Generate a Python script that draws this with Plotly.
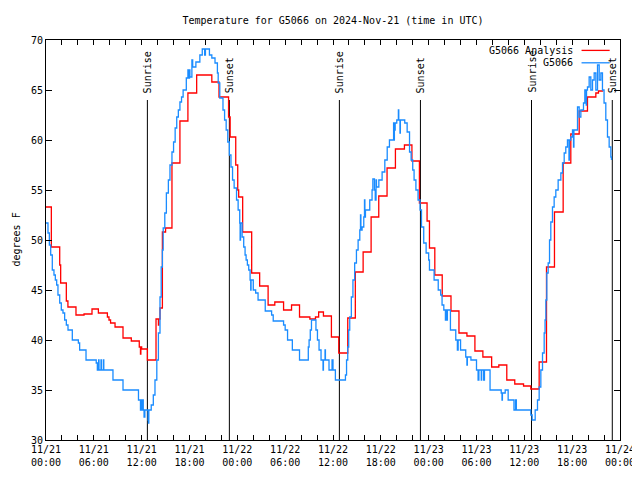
import pandas as pd
import plotly.graph_objects as go

start = pd.Timestamp("2024-11-21 00:00")

# Analysis series (hours since 11/21 00:00 UTC, degrees F)
analysis_hours = [0.0, 0.67, 1.72, 1.84, 2.55, 2.75, 3.76, 4.77, 5.77, 6.57, 7.7, 7.9, 8.1, 8.66,
                  9.66, 10.7, 11.7, 11.85, 11.9, 12.0, 12.72, 13.8, 14.1, 14.15, 14.3, 14.6, 15.0,
                  15.8, 16.8, 17.8, 18.9, 20.8, 21.7, 22.9, 23.1, 23.8, 24.05, 24.17, 24.67, 25.8,
                  26.8, 27.86, 28.7, 29.8, 30.8, 31.8, 33.1, 33.8, 34.2, 34.8, 35.8, 36.72, 37.85,
                  38.8, 39.78, 40.78, 41.74, 42.78, 43.83, 44.96, 45.9, 46.84, 47.8, 48.1, 48.77,
                  49.7, 50.8, 51.8, 52.8, 53.8, 54.8, 55.9, 56.8, 57.8, 58.8, 59.9, 60.81, 61.86,
                  62.78, 63.78, 64.87, 65.83, 66.88, 67.92, 68.97, 69.3, 69.9]
analysis_temps = [53.3, 49.3, 47.5, 45.7, 43.9, 43.3, 42.5, 42.6, 43.1, 42.7, 42.3, 42.0, 41.7, 41.3,
                  40.2, 39.9, 39.3, 38.6, 39.3, 39.1, 38.0, 42.1, 41.5, 42.1, 43.2, 50.8, 51.2,
                  57.7, 61.9, 64.7, 66.5, 65.8, 64.3, 62.3, 60.3, 57.5, 55.0, 54.3, 50.8, 46.7,
                  45.4, 43.5, 43.8, 43.0, 43.5, 42.3, 42.1, 42.3, 42.8, 42.4, 40.3, 38.7, 42.2,
                  46.8, 48.8, 52.3, 54.4, 57.2, 59.1, 59.5, 57.9, 53.7, 51.9, 49.2, 46.5,
                  44.4, 42.9, 40.7, 40.4, 38.9, 38.3, 37.3, 37.5, 36.0, 35.6, 35.4, 35.1, 37.8,
                  47.3, 52.8, 57.7, 60.6, 62.9, 64.3, 64.7, 64.9, 64.9]

# Observed series
obs_hours = [0.0, 0.25, 0.42, 0.59, 0.79, 1.0, 1.17, 1.34, 1.5, 1.72, 1.92, 2.13, 2.34, 2.55, 2.76,
             3.3, 4.06, 4.22, 5.02, 6.3, 6.44, 6.6, 6.65, 6.9, 6.95, 7.2, 7.25, 8.4, 9.66, 11.6,
             11.85, 11.9, 12.0, 12.05, 12.2, 12.3, 12.4, 12.8, 12.85, 12.9, 13.2, 13.46, 13.67,
             13.9, 14.1, 14.3, 14.45, 14.6, 14.7, 14.9, 15.1, 15.35, 15.55, 15.8, 16.0, 16.2,
             16.4, 16.6, 16.8, 17.0, 17.2, 17.6, 17.8, 17.85, 18.0, 18.05, 18.3, 18.4, 18.8,
             19.3, 19.6, 19.9, 20.0, 20.5, 20.8, 21.2, 21.5, 21.6, 21.8, 22.2, 22.4, 22.6, 22.8,
             23.0, 23.2, 23.4, 23.6, 23.9, 24.1, 24.3, 24.35, 24.4, 24.6, 24.8, 24.97, 25.1,
             25.26, 25.43, 25.6, 25.68, 25.72, 26.0, 26.3, 26.6, 27.5, 28.3, 28.5, 29.8, 30.0,
             30.3, 30.9, 31.8, 32.9, 33.0, 33.15, 33.3, 33.86, 34.05, 34.25, 34.5, 34.75, 34.8,
             35.0, 35.05, 35.5, 35.88, 36.0, 36.3, 37.56, 37.7, 37.85, 37.97, 38.1, 38.3, 38.5,
             38.72, 38.94, 39.15, 39.36, 39.45, 39.5, 39.65, 39.86, 39.95, 40.0, 40.07, 40.61,
             40.9, 41.0, 41.2, 41.3, 41.4, 41.45, 41.75, 42.08, 42.16, 42.5, 42.8, 43.08, 43.6,
             43.65, 43.7, 43.8, 44.0, 44.2, 44.25, 44.4, 44.45, 45.0, 45.3, 45.6, 45.8, 46.0,
             46.17, 46.4, 46.67, 46.92, 47.1, 47.38, 47.68, 48.0, 48.1, 48.68, 49.2, 49.5,
             49.68, 49.9, 50.1, 50.15, 50.3, 50.35, 50.73, 51.4, 51.6, 51.7, 52.0, 52.65, 52.8,
             52.85, 53.3, 54.0, 54.2, 54.3, 54.6, 54.65, 54.9, 55.0, 55.7, 57.1, 57.2, 57.25,
             57.6, 57.97, 58.7, 58.9, 59.0, 60.81, 60.98, 61.36, 61.65, 61.86, 62.07, 62.28,
             62.49, 62.6, 62.7, 62.82, 62.99, 63.16, 63.32, 63.53, 63.74, 63.95, 64.24, 64.58,
             64.79, 65.0, 65.2, 65.41, 65.6, 65.65, 65.83, 66.04, 66.17, 66.22, 66.67, 66.88,
             67.09, 67.42, 67.59, 67.76, 67.8, 67.92, 68.13, 68.34, 68.55, 68.76, 68.97, 69.18,
             69.39, 69.6, 69.8, 70.0, 70.22, 70.43, 70.64, 70.85, 70.93]
obs_temps = [51.7, 50.7, 49.5, 48.5, 47.0, 46.5, 46.0, 45.5, 44.5, 43.7, 43.0, 42.7, 42.0, 41.5, 41.0,
             40.0, 39.7, 39.0, 38.0, 37.7, 37.0, 38.0, 37.0, 38.0, 37.0, 38.0, 37.0, 36.0, 35.0, 34.0,
             33.0, 34.0, 33.0, 34.0, 33.0, 32.3, 33.0, 32.0, 31.7, 33.0, 33.5, 34.5, 36.0,
             38.0, 40.7, 44.3, 47.3, 49.0, 51.2, 52.7, 54.7, 56.0, 57.5, 58.8, 59.8, 61.2,
             62.3, 63.0, 63.8, 64.3, 65.0, 66.2, 67.0, 66.2, 67.0, 66.3, 68.0, 67.3, 67.8,
             68.5, 69.1, 68.5, 69.1, 68.5, 68.2, 67.7, 66.7, 65.7, 64.2, 63.0, 62.0, 61.0, 59.8,
             58.5, 57.3, 56.0, 55.2, 54.0, 53.0, 51.7, 50.0, 51.7, 50.3, 49.3, 48.5, 48.0,
             47.5, 47.0, 46.0, 45.0, 46.0, 45.0, 44.7, 44.0, 42.9, 42.5, 41.9, 41.5, 41.0,
             40.0, 39.0, 38.0, 39.3, 40.0, 41.0, 42.0, 41.0, 40.0, 39.0, 38.0, 37.0, 38.0,
             39.0, 38.0, 37.0, 38.0, 37.0, 36.0, 36.5, 38.0, 39.3, 41.0, 42.3, 44.3, 46.0,
             47.7, 49.0, 50.0, 51.0, 52.5, 51.0, 51.3, 52.3, 54.0, 52.3, 53.0, 54.0,
             55.0, 56.1, 55.0, 54.0, 56.0, 55.3, 56.0, 56.0, 56.8, 58.0, 59.3, 60.0, 61.7,
             60.0, 61.0, 61.7, 62.0, 63.0, 62.0, 60.7, 62.0, 61.7, 60.8, 58.8, 58.0, 57.0,
             56.0, 55.0, 54.0, 53.0, 51.3, 49.7, 48.7, 48.0, 47.0, 46.0, 45.0, 44.5,
             43.5, 43.0, 42.0, 43.0, 42.0, 43.0, 41.0, 40.0, 39.0, 40.0, 39.0, 38.3, 37.5,
             38.3, 38.0, 37.0, 36.0, 37.0, 36.0, 37.0, 36.0, 37.0, 35.0, 34.7, 34.0, 34.7,
             35.0, 34.0, 33.0, 34.0, 33.0, 32.5, 32.0, 33.0, 34.0, 35.3, 37.0, 38.7,
             40.7, 42.0, 44.0, 46.7, 47.7, 50.0, 51.8, 53.3, 54.3, 55.0, 56.0, 56.7,
             57.7, 58.7, 59.3, 60.0, 58.0, 60.0, 60.3, 61.0, 59.3, 61.0, 63.3, 62.3,
             63.0, 63.7, 65.0, 63.5, 65.0, 65.3, 66.3, 65.0, 66.0, 66.7, 65.0, 67.5,
             66.0, 66.7, 65.0, 63.7, 62.0, 60.3, 59.3, 58.3, 58.0]

# Sunrise / sunset times (UTC)
sunrise_times = ["2024-11-21 12:43", "2024-11-22 12:48", "2024-11-23 12:54"]
sunset_times = ["2024-11-21 23:00", "2024-11-22 22:58", "2024-11-23 23:02"]

y_ticks = [30, 35, 40, 45, 50, 55, 60, 65, 70]

FONT = "DejaVu Sans Mono"


def to_time(hours):
    return [start + pd.Timedelta(hours=h) for h in hours]


fig = go.Figure()
fig.add_trace(go.Scatter(x=to_time(analysis_hours), y=analysis_temps, mode="lines",
                         line=dict(color="#ff0000", width=1.3, shape="hv"),
                         name="G5066 Analysis", showlegend=False))
fig.add_trace(go.Scatter(x=to_time(obs_hours), y=obs_temps, mode="lines",
                         line=dict(color="#1a8cff", width=1.3, shape="hv"),
                         name="G5066", showlegend=False))

for label, times in (("Sunrise", sunrise_times), ("Sunset", sunset_times)):
    for t in times:
        fig.add_shape(type="line", xref="x", yref="y", x0=t, x1=t, y0=30, y1=64,
                      line=dict(color="black", width=1), layer="below")
        fig.add_annotation(x=t, y=64.5, xref="x", yref="y", text=label, textangle=-90,
                           showarrow=False, xanchor="center", yanchor="bottom",
                           font=dict(family=FONT, size=10, color="black"))

# Legend (gnuplot style: text then sample line)
legend_items = [("G5066 Analysis", "#ff0000", 0.974), ("G5066", "#1a8cff", 0.943)]
for text, color, yy in legend_items:
    fig.add_annotation(x=0.921, y=yy, xref="paper", yref="paper", text=text, showarrow=False,
                       xanchor="right", yanchor="middle",
                       font=dict(family=FONT, size=10, color="black"))
    fig.add_shape(type="line", xref="paper", yref="paper", x0=0.933, x1=0.982, y0=yy, y1=yy,
                  line=dict(color=color, width=1.3))

# X ticks every 2 hours, labels every 6 hours
tick_times = pd.date_range(start, start + pd.Timedelta(hours=72), freq="2h")
tick_text = [t.strftime("%m/%d<br>%H:%M") if t.hour % 6 == 0 else "" for t in tick_times]

fig.add_annotation(x=(1.0 - 38) / 574, y=0.5, xref="paper", yref="paper", text="degrees F",
                   textangle=-90, showarrow=False, xanchor="left", yanchor="middle",
                   borderpad=0, font=dict(family=FONT, size=10, color="black"))

fig.update_layout(
    width=632, height=472,
    margin=dict(l=38, r=20, t=32, b=40, autoexpand=False),
    paper_bgcolor="white", plot_bgcolor="white",
    title=dict(text="Temperature for G5066 on 2024-Nov-21 (time in UTC)",
               x=0.5, xref="paper", xanchor="center", y=1 - 12 / 472, yanchor="middle",
               font=dict(family=FONT, size=10, color="black")),
    font=dict(family=FONT, size=10, color="black"),
    xaxis=dict(type="date", range=[start, start + pd.Timedelta(hours=72)],
               tickvals=list(tick_times), ticktext=tick_text, tickangle=0, automargin=False,
               ticks="inside", ticklen=5, tickcolor="black", showline=True, linecolor="black",
               linewidth=1, mirror="allticks", showgrid=False, zeroline=False,
               tickfont=dict(family=FONT, size=10, color="black")),
    yaxis=dict(range=[30, 70], tickvals=y_ticks, ticks="inside", ticklen=6, tickcolor="black",
               showline=True, linecolor="black", linewidth=1, mirror="allticks",
               showgrid=False, zeroline=False, automargin=False,
               tickfont=dict(family=FONT, size=10, color="black")),
)

fig.write_html("out.html")
